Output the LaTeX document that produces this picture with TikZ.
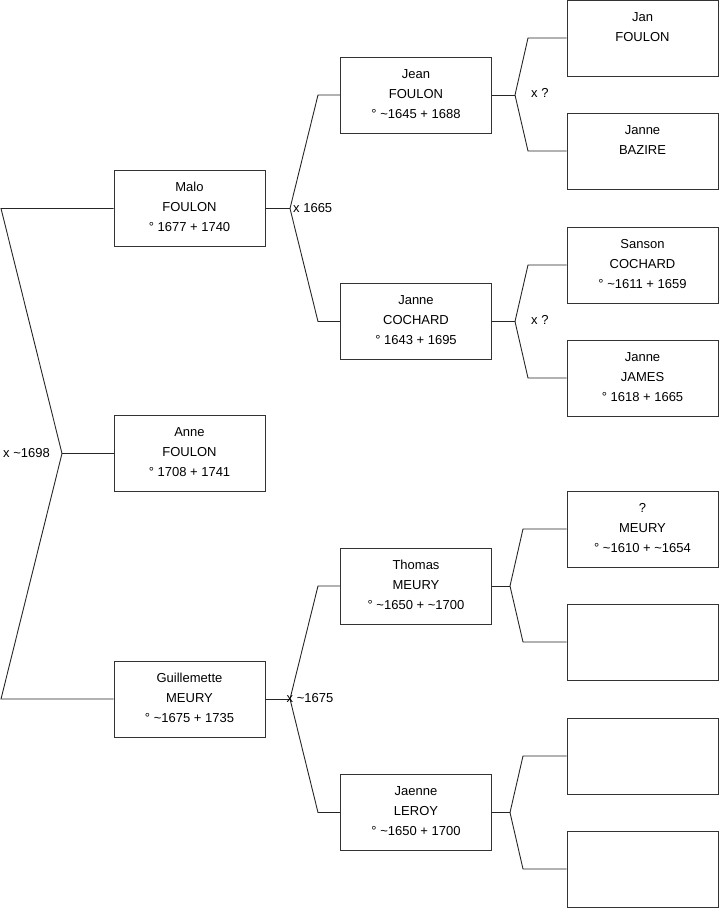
\documentclass[tikz,border=0pt]{standalone}
\usepackage{fontspec}
\setmainfont{Liberation Sans}
\begin{document}
\begin{tikzpicture}[x=1pt,y=-1pt,
  person/.style={draw=black!80,line width=0.9pt,minimum width=151pt,minimum height=76pt,
    align=center,inner sep=0pt,text height=51.5pt,text depth=5.5pt,
    font=\fontsize{13}{20}\selectfont},
  link/.style={draw=black!85,line width=0.9pt},
  lbl/.style={font=\fontsize{13}{15}\selectfont,inner sep=0pt}]
\useasboundingbox (0,0) rectangle (719,908);
% generation 0
\node[person] (malo) at (189.5,208.5) {Malo\\FOULON\\° 1677 + 1740};
\node[person] (anne) at (189.5,453.5) {Anne\\FOULON\\° 1708 + 1741};
\node[person] (guil) at (189.5,699) {Guillemette\\MEURY\\° \textasciitilde1675 + 1735};
% generation 1
\node[person] (jean) at (416,95) {Jean\\FOULON\\° \textasciitilde1645 + 1688};
\node[person] (jcoch) at (416,321.5) {Janne\\COCHARD\\° 1643 + 1695};
\node[person] (thomas) at (416,586) {Thomas\\MEURY\\° \textasciitilde1650 + \textasciitilde1700};
\node[person] (jaenne) at (416,812.5) {Jaenne\\LEROY\\° \textasciitilde1650 + 1700};
% generation 2
\node[person] (jan) at (642.5,38) {Jan\\FOULON\\\mbox{}};
\node[person] (bazire) at (642.5,151) {Janne\\BAZIRE\\\mbox{}};
\node[person] (sanson) at (642.5,265) {Sanson\\COCHARD\\° \textasciitilde1611 + 1659};
\node[person] (james) at (642.5,378) {Janne\\JAMES\\° 1618 + 1665};
\node[person] (qmeury) at (642.5,529) {?\\MEURY\\° \textasciitilde1610 + \textasciitilde1654};
\node[person] (e1) at (642.5,642) {};
\node[person] (e2) at (642.5,756) {};
\node[person] (e3) at (642.5,869) {};
% junction coordinates
\coordinate (j0) at (62,453.5);
\coordinate (a0) at (1,208.5);
\coordinate (b0) at (1,699);
\coordinate (jm) at (290,208.5);
\coordinate (am) at (318,95);
\coordinate (bm) at (318,321.5);
\coordinate (jg) at (290,699);
\coordinate (ag) at (318,586);
\coordinate (bg) at (318,812.5);
\coordinate (jj) at (515,95);
\coordinate (aj) at (528,38);
\coordinate (bj) at (528,151);
\coordinate (jc) at (515,321.5);
\coordinate (ac) at (528,265);
\coordinate (bc) at (528,378);
\coordinate (jt) at (510,586);
\coordinate (at) at (523,529);
\coordinate (bt) at (523,642);
\coordinate (jl) at (510,812.5);
\coordinate (al) at (523,756);
\coordinate (bl) at (523,869);
% connectors
\draw[link] (malo.west) -- (a0) -- (j0) -- (b0) -- (guil.west);
\draw[link] (j0) -- (anne.west);
\draw[link] (malo.east) -- (jm);
\draw[link] (jean.west) -- (am) -- (jm) -- (bm) -- (jcoch.west);
\draw[link] (guil.east) -- (jg);
\draw[link] (thomas.west) -- (ag) -- (jg) -- (bg) -- (jaenne.west);
\draw[link] (jean.east) -- (jj);
\draw[link] (jan.west) -- (aj) -- (jj) -- (bj) -- (bazire.west);
\draw[link] (jcoch.east) -- (jc);
\draw[link] (sanson.west) -- (ac) -- (jc) -- (bc) -- (james.west);
\draw[link] (thomas.east) -- (jt);
\draw[link] (qmeury.west) -- (at) -- (jt) -- (bt) -- (e1.west);
\draw[link] (jaenne.east) -- (jl);
\draw[link] (e2.west) -- (al) -- (jl) -- (bl) -- (e3.west);
% labels
\node[lbl,anchor=east] (l0) at (50,453.5) {x \textasciitilde1698};
\node[lbl,anchor=west] (lm) at (293,208) {x 1665};
\node[lbl,anchor=west] (lg) at (286.5,698) {x \textasciitilde1675};
\node[lbl,anchor=west] (lj) at (531,93) {x ?};
\node[lbl,anchor=west] (lc) at (531,320) {x ?};
\end{tikzpicture}
\end{document}
